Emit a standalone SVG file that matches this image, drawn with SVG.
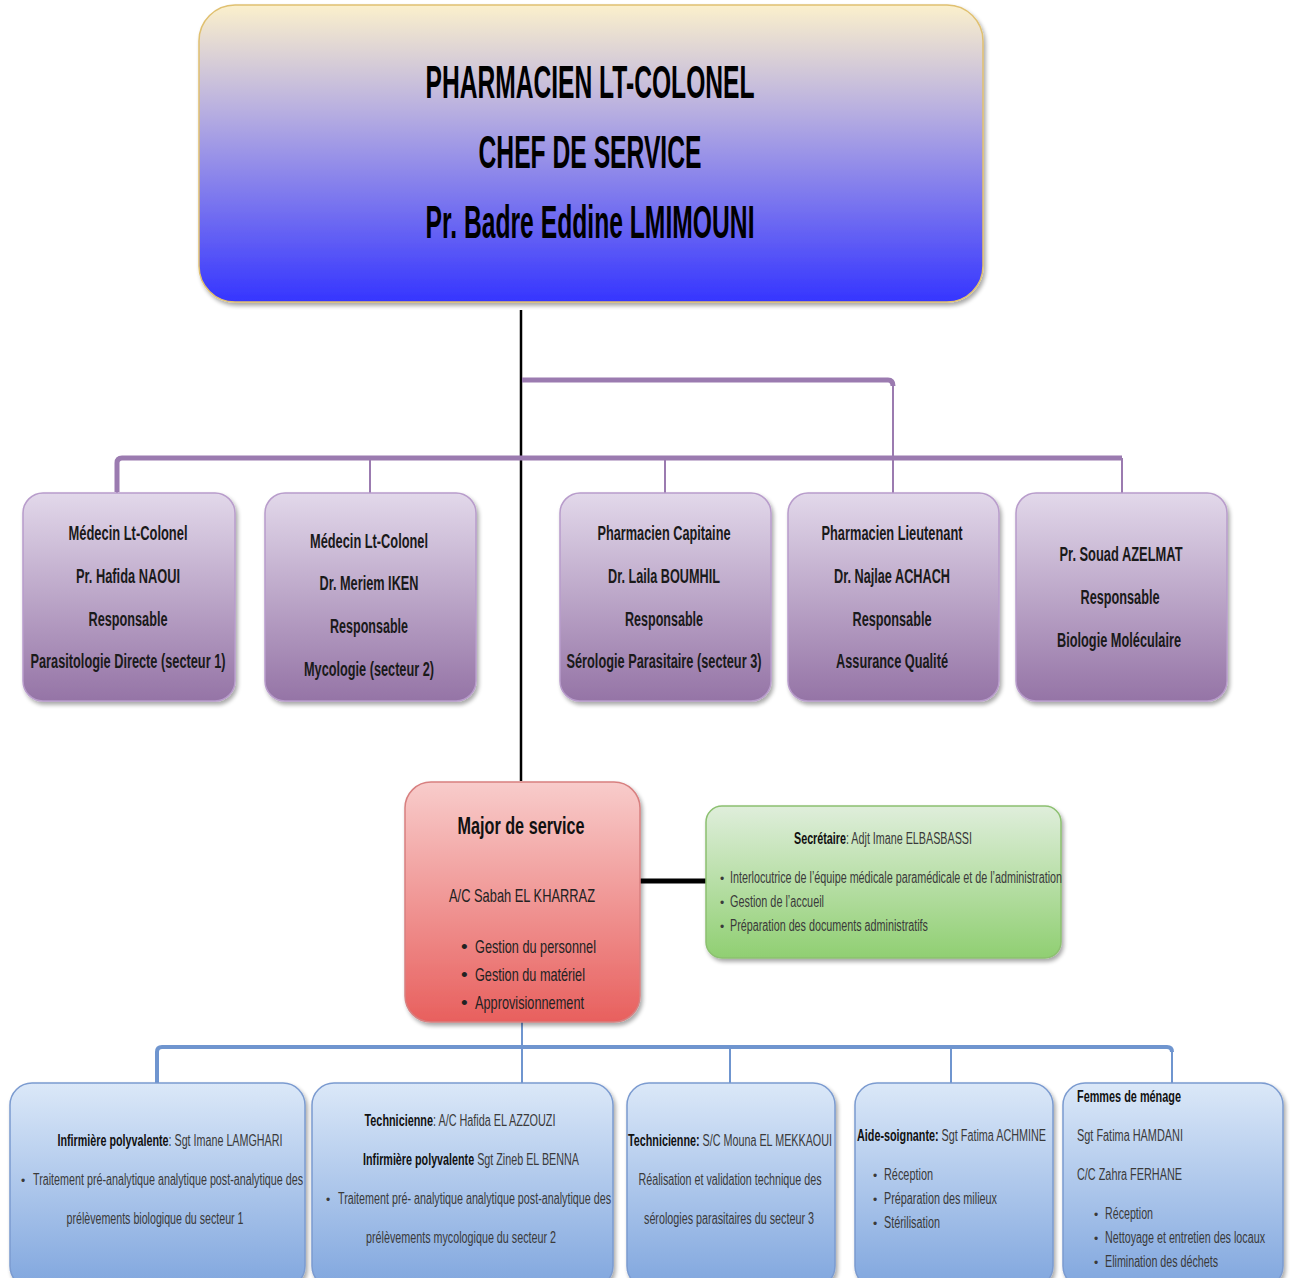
<svg xmlns="http://www.w3.org/2000/svg" width="1290" height="1278" viewBox="0 0 1290 1278">
  <defs>
    <linearGradient id="gTop" x1="0" y1="0" x2="0" y2="1">
      <stop offset="0" stop-color="#fbf0cc"/>
      <stop offset="0.35" stop-color="#b9b0e0"/>
      <stop offset="1" stop-color="#3535ff"/>
    </linearGradient>
    <linearGradient id="gPurple" x1="0" y1="0" x2="0" y2="1">
      <stop offset="0" stop-color="#e2d8ea"/>
      <stop offset="1" stop-color="#9574a6"/>
    </linearGradient>
    <linearGradient id="gRed" x1="0" y1="0" x2="0" y2="1">
      <stop offset="0" stop-color="#f8cccb"/>
      <stop offset="1" stop-color="#e8605e"/>
    </linearGradient>
    <linearGradient id="gGreen" x1="0" y1="0" x2="0" y2="1">
      <stop offset="0" stop-color="#dfeedb"/>
      <stop offset="1" stop-color="#90cf72"/>
    </linearGradient>
    <linearGradient id="gBlue" x1="0" y1="0" x2="0" y2="1">
      <stop offset="0" stop-color="#dbe8f8"/>
      <stop offset="1" stop-color="#80a6de"/>
    </linearGradient>
    <filter id="shadow" x="-5%" y="-5%" width="112%" height="115%">
      <feGaussianBlur in="SourceAlpha" stdDeviation="2"/>
      <feOffset dx="2" dy="3" result="b"/>
      <feComponentTransfer><feFuncA type="linear" slope="0.35"/></feComponentTransfer>
      <feMerge><feMergeNode/><feMergeNode in="SourceGraphic"/></feMerge>
    </filter>
  </defs>
  <style>
    text { font-family: "Liberation Sans", Arial, sans-serif; }
    .top { font-size: 46px; font-weight: bold; fill: #000; text-anchor: middle; }
    .pur { font-size: 20px; font-weight: bold; fill: #1a1a1a; text-anchor: middle; }
    .maj { font-size: 24px; font-weight: bold; fill: #111; text-anchor: middle; }
    .majn { font-size: 19px; fill: #222; }
    .sm { font-size: 16px; fill: #3a3a3a; }
    .dot { font-size: 12px; fill: #3a3a3a; }
    .b { font-weight: bold; fill: #111; }
    .c { text-anchor: middle; }
    .boxTop { fill: url(#gTop); stroke: #e0c070; stroke-width: 1.5; filter: url(#shadow); }
    .boxPur { fill: url(#gPurple); stroke: #b89ccb; stroke-width: 1.5; filter: url(#shadow); }
    .boxRed { fill: url(#gRed); stroke: #d88080; stroke-width: 1.5; filter: url(#shadow); }
    .boxGrn { fill: url(#gGreen); stroke: #8cc070; stroke-width: 1.5; filter: url(#shadow); }
    .boxBlu { fill: url(#gBlue); stroke: #7b9bd0; stroke-width: 1.5; filter: url(#shadow); }
    .lnPur { fill: none; stroke: #9b7bb0; }
    .lnBlu { fill: none; stroke: #6f95cf; }
    .lnBlk { fill: none; stroke: #000; }
  </style>

  <rect width="1290" height="1278" fill="#ffffff"/>

  <!-- connectors -->
  <g id="connectors">
    <line class="lnBlk" x1="521" y1="310" x2="521" y2="781" stroke-width="2.5"/>
    <path class="lnPur" d="M522 380 H888 Q893 380 893 386" stroke-width="5"/>
    <line class="lnPur" x1="893" y1="384" x2="893" y2="493" stroke-width="2"/>
    <path class="lnPur" d="M117 492 V463 Q117 458 122 458 H1122" stroke-width="5"/>
    <line class="lnPur" x1="117" y1="460" x2="117" y2="493" stroke-width="2"/>
    <line class="lnPur" x1="370" y1="458" x2="370" y2="493" stroke-width="2"/>
    <line class="lnPur" x1="665" y1="458" x2="665" y2="493" stroke-width="2"/>
    <line class="lnPur" x1="1122" y1="458" x2="1122" y2="493" stroke-width="2"/>
    <line class="lnBlk" x1="640" y1="881" x2="706" y2="881" stroke-width="5"/>
    <line class="lnBlu" x1="522" y1="1022" x2="522" y2="1083" stroke-width="2"/>
    <path class="lnBlu" d="M157 1083 V1052 Q157 1047 162 1047 H1167 Q1172 1047 1172 1052" stroke-width="4"/>
    <line class="lnBlu" x1="157" y1="1050" x2="157" y2="1083" stroke-width="2"/>
    <line class="lnBlu" x1="730" y1="1047" x2="730" y2="1083" stroke-width="2"/>
    <line class="lnBlu" x1="951" y1="1047" x2="951" y2="1083" stroke-width="2"/>
    <line class="lnBlu" x1="1172" y1="1050" x2="1172" y2="1083" stroke-width="2"/>
  </g>

  <!-- head of department -->
  <g id="chef">
    <rect class="boxTop" x="199" y="5" width="784" height="297" rx="36"/>
    <text class="top" x="590" y="98" textLength="329" lengthAdjust="spacingAndGlyphs">PHARMACIEN LT-COLONEL</text>
    <text class="top" x="590" y="168" textLength="223" lengthAdjust="spacingAndGlyphs">CHEF DE SERVICE</text>
    <text class="top" x="590" y="238" textLength="329" lengthAdjust="spacingAndGlyphs">Pr. Badre Eddine LMIMOUNI</text>
  </g>

  <!-- sector heads -->
  <g id="secteur1">
    <rect class="boxPur" x="23" y="493" width="212" height="208" rx="20"/>
    <text class="pur" x="128" y="540" textLength="119" lengthAdjust="spacingAndGlyphs">Médecin Lt-Colonel</text>
    <text class="pur" x="128" y="583" textLength="104" lengthAdjust="spacingAndGlyphs">Pr. Hafida NAOUI</text>
    <text class="pur" x="128" y="626" textLength="79" lengthAdjust="spacingAndGlyphs">Responsable</text>
    <text class="pur" x="128" y="668" textLength="195" lengthAdjust="spacingAndGlyphs">Parasitologie Directe (secteur 1)</text>
  </g>
  <g id="secteur2">
    <rect class="boxPur" x="265" y="493" width="211" height="208" rx="20"/>
    <text class="pur" x="369" y="548" textLength="118" lengthAdjust="spacingAndGlyphs">Médecin Lt-Colonel</text>
    <text class="pur" x="369" y="590" textLength="99" lengthAdjust="spacingAndGlyphs">Dr. Meriem IKEN</text>
    <text class="pur" x="369" y="633" textLength="78" lengthAdjust="spacingAndGlyphs">Responsable</text>
    <text class="pur" x="369" y="676" textLength="130" lengthAdjust="spacingAndGlyphs">Mycologie (secteur 2)</text>
  </g>
  <g id="secteur3">
    <rect class="boxPur" x="560" y="493" width="211" height="208" rx="20"/>
    <text class="pur" x="664" y="540" textLength="133" lengthAdjust="spacingAndGlyphs">Pharmacien Capitaine</text>
    <text class="pur" x="664" y="583" textLength="112" lengthAdjust="spacingAndGlyphs">Dr. Laila BOUMHIL</text>
    <text class="pur" x="664" y="626" textLength="78" lengthAdjust="spacingAndGlyphs">Responsable</text>
    <text class="pur" x="664" y="668" textLength="195" lengthAdjust="spacingAndGlyphs">Sérologie Parasitaire (secteur 3)</text>
  </g>
  <g id="qualite">
    <rect class="boxPur" x="788" y="493" width="211" height="208" rx="20"/>
    <text class="pur" x="892" y="540" textLength="141" lengthAdjust="spacingAndGlyphs">Pharmacien Lieutenant</text>
    <text class="pur" x="892" y="583" textLength="116" lengthAdjust="spacingAndGlyphs">Dr. Najlae ACHACH</text>
    <text class="pur" x="892" y="626" textLength="79" lengthAdjust="spacingAndGlyphs">Responsable</text>
    <text class="pur" x="892" y="668" textLength="112" lengthAdjust="spacingAndGlyphs">Assurance Qualité</text>
  </g>
  <g id="biomol">
    <rect class="boxPur" x="1016" y="493" width="211" height="208" rx="20"/>
    <text class="pur" x="1121" y="561" textLength="123" lengthAdjust="spacingAndGlyphs">Pr. Souad AZELMAT</text>
    <text class="pur" x="1120" y="604" textLength="79" lengthAdjust="spacingAndGlyphs">Responsable</text>
    <text class="pur" x="1119" y="647" textLength="124" lengthAdjust="spacingAndGlyphs">Biologie Moléculaire</text>
  </g>

  <!-- head nurse -->
  <g id="major">
    <rect class="boxRed" x="405" y="782" width="235" height="240" rx="26"/>
    <text class="maj" x="521" y="834" textLength="127" lengthAdjust="spacingAndGlyphs">Major de service</text>
    <text class="majn c" x="522" y="902" textLength="146" lengthAdjust="spacingAndGlyphs">A/C Sabah EL KHARRAZ</text>
    <text class="majn" x="461" y="953">•</text>
    <text class="majn" x="475" y="953" textLength="121" lengthAdjust="spacingAndGlyphs">Gestion du personnel</text>
    <text class="majn" x="461" y="981">•</text>
    <text class="majn" x="475" y="981" textLength="110" lengthAdjust="spacingAndGlyphs">Gestion du matériel</text>
    <text class="majn" x="461" y="1009">•</text>
    <text class="majn" x="475" y="1009" textLength="109" lengthAdjust="spacingAndGlyphs">Approvisionnement</text>
  </g>

  <!-- secretary -->
  <g id="secretaire">
    <rect class="boxGrn" x="706" y="806" width="355" height="152" rx="16"/>
    <text class="sm c" x="883" y="844" textLength="178" lengthAdjust="spacingAndGlyphs"><tspan class="b">Secrétaire</tspan>: Adjt Imane ELBASBASSI</text>
    <text class="dot" x="720" y="883">•</text>
    <text class="sm" x="730" y="883" textLength="332" lengthAdjust="spacingAndGlyphs">Interlocutrice de l’équipe médicale paramédicale et de l’administration</text>
    <text class="dot" x="720" y="907">•</text>
    <text class="sm" x="730" y="907" textLength="94" lengthAdjust="spacingAndGlyphs">Gestion de l’accueil</text>
    <text class="dot" x="720" y="931">•</text>
    <text class="sm" x="730" y="931" textLength="198" lengthAdjust="spacingAndGlyphs">Préparation des documents administratifs</text>
  </g>

  <!-- staff -->
  <g id="infirmiere">
    <rect class="boxBlu" x="10" y="1083" width="295" height="205" rx="22"/>
    <text class="sm c" x="170" y="1146" textLength="225" lengthAdjust="spacingAndGlyphs"><tspan class="b">Infirmière polyvalente</tspan>: Sgt Imane LAMGHARI</text>
    <text class="dot" x="21" y="1185">•</text>
    <text class="sm" x="33" y="1185" textLength="270" lengthAdjust="spacingAndGlyphs">Traitement pré-analytique analytique post-analytique des</text>
    <text class="sm c" x="155" y="1224" textLength="177" lengthAdjust="spacingAndGlyphs">prélèvements biologique du secteur 1</text>
  </g>
  <g id="technicienne1">
    <rect class="boxBlu" x="312" y="1083" width="301" height="205" rx="22"/>
    <text class="sm c" x="460" y="1126" textLength="191" lengthAdjust="spacingAndGlyphs"><tspan class="b">Technicienne</tspan>: A/C Hafida EL AZZOUZI</text>
    <text class="sm c" x="471" y="1165" textLength="216" lengthAdjust="spacingAndGlyphs"><tspan class="b">Infirmière polyvalente</tspan> Sgt Zineb EL BENNA</text>
    <text class="dot" x="326" y="1204">•</text>
    <text class="sm" x="338" y="1204" textLength="273" lengthAdjust="spacingAndGlyphs">Traitement pré- analytique analytique post-analytique des</text>
    <text class="sm c" x="461" y="1243" textLength="190" lengthAdjust="spacingAndGlyphs">prélèvements mycologique du secteur 2</text>
  </g>
  <g id="technicienne2">
    <rect class="boxBlu" x="627" y="1083" width="208" height="205" rx="22"/>
    <text class="sm c" x="730" y="1146" textLength="204" lengthAdjust="spacingAndGlyphs"><tspan class="b">Technicienne:</tspan> S/C Mouna EL MEKKAOUI</text>
    <text class="sm c" x="730" y="1185" textLength="183" lengthAdjust="spacingAndGlyphs">Réalisation et validation technique des</text>
    <text class="sm c" x="729" y="1224" textLength="170" lengthAdjust="spacingAndGlyphs">sérologies parasitaires du secteur 3</text>
  </g>
  <g id="aidesoignante">
    <rect class="boxBlu" x="855" y="1083" width="198" height="205" rx="22"/>
    <text class="sm" x="857" y="1141" textLength="189" lengthAdjust="spacingAndGlyphs"><tspan class="b">Aide-soignante:</tspan> Sgt Fatima ACHMINE</text>
    <text class="dot" x="873" y="1180">•</text>
    <text class="sm" x="884" y="1180" textLength="49" lengthAdjust="spacingAndGlyphs">Réception</text>
    <text class="dot" x="873" y="1204">•</text>
    <text class="sm" x="884" y="1204" textLength="113" lengthAdjust="spacingAndGlyphs">Préparation des milieux</text>
    <text class="dot" x="873" y="1228">•</text>
    <text class="sm" x="884" y="1228" textLength="56" lengthAdjust="spacingAndGlyphs">Stérilisation</text>
  </g>
  <g id="menage">
    <rect class="boxBlu" x="1063" y="1083" width="220" height="205" rx="22"/>
    <text class="sm b" x="1077" y="1102" textLength="104" lengthAdjust="spacingAndGlyphs">Femmes de ménage</text>
    <text class="sm" x="1077" y="1141" textLength="106" lengthAdjust="spacingAndGlyphs">Sgt Fatima HAMDANI</text>
    <text class="sm" x="1077" y="1180" textLength="105" lengthAdjust="spacingAndGlyphs">C/C Zahra FERHANE</text>
    <text class="dot" x="1094" y="1219">•</text>
    <text class="sm" x="1105" y="1219" textLength="48" lengthAdjust="spacingAndGlyphs">Réception</text>
    <text class="dot" x="1094" y="1243">•</text>
    <text class="sm" x="1105" y="1243" textLength="160" lengthAdjust="spacingAndGlyphs">Nettoyage et entretien des locaux</text>
    <text class="dot" x="1094" y="1267">•</text>
    <text class="sm" x="1105" y="1267" textLength="113" lengthAdjust="spacingAndGlyphs">Elimination des déchets</text>
  </g>
</svg>
